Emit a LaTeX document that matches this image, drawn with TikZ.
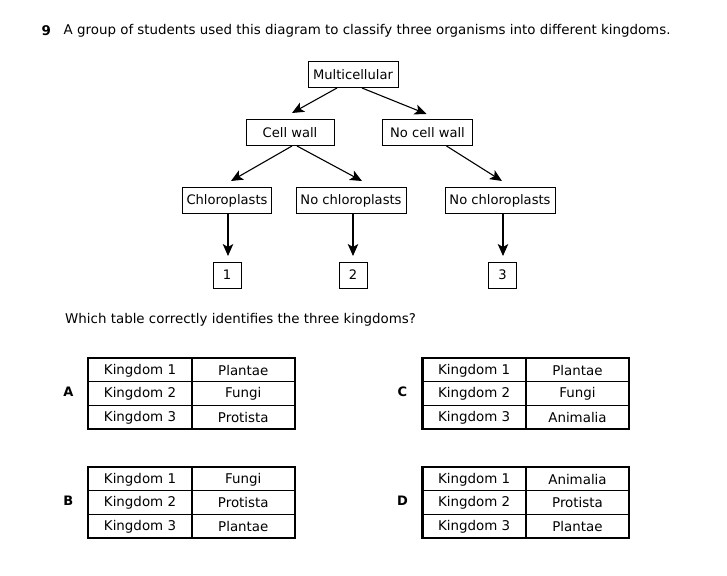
\documentclass[tikz,border=0pt]{standalone}
\usepackage{fontspec}
\setmainfont{DejaVu Sans}
\usetikzlibrary{arrows.meta}
\newcommand\kingtable[7]{% name, left x, top y, label, v1, v2, v3
  \begin{scope}[shift={(#2,#3)}]
    \draw[thin line] (0,23.6) -- (206.5,23.6) (0,47.2) -- (206.5,47.2);
    \draw[mid line] (103.4,0) -- (103.4,70.8);
    \draw[thick box] (0,0) rectangle (206.5,70.8);
    \node[celltext] (#1k1) at (51.7,12.3) {Kingdom 1};
    \node[celltext] (#1k2) at (51.7,35.9) {Kingdom 2};
    \node[celltext] (#1k3) at (51.7,59.5) {Kingdom 3};
    \node[celltext] (#1v1) at (155,12.3) {#5};
    \node[celltext] (#1v2) at (155,35.9) {#6};
    \node[celltext] (#1v3) at (155,59.5) {#7};
    \node[lettertext] (#1lab) at (-20,33.7) {#4};
  \end{scope}}
\begin{document}
\begin{tikzpicture}[x=1pt,y=-1pt,
  box/.style={draw,line width=1pt,inner sep=0pt,minimum height=26pt,font=\fontsize{13.1}{15}\selectfont},
  arr/.style={line width=1.1pt,-{Stealth[length=12pt,width=10.5pt,inset=3pt]}},
  celltext/.style={inner sep=0pt,font=\fontsize{13.4}{15}\selectfont},
  lettertext/.style={inner sep=0pt,font=\fontsize{13}{15}\selectfont\bfseries},
  thin line/.style={line width=0.9pt},
  mid line/.style={line width=1.6pt},
  thick box/.style={line width=2.2pt},
  txt/.style={inner sep=0pt,anchor=west,font=\fontsize{13.4}{15}\selectfont}]
\useasboundingbox (0,0) rectangle (727,575);
% title
\node[txt,font=\fontsize{13.4}{15}\selectfont\bfseries] (num) at (41.5,31) {9};
\node[txt] (title) at (63.5,31) {A group of students used this diagram to classify three organisms into different kingdoms.};
% tree
\node[box,minimum width=90pt] (mc) at (353,74.5) {Multicellular};
\node[box,minimum width=88pt] (cw) at (290,132.5) {Cell wall};
\node[box,minimum width=90pt] (ncw) at (427.5,132.5) {No cell wall};
\node[box,minimum width=89pt] (ch) at (227,200.5) {Chloroplasts};
\node[box,minimum width=110pt] (nch1) at (351,200.5) {No chloroplasts};
\node[box,minimum width=110pt] (nch2) at (500,200.5) {No chloroplasts};
\node[box,minimum width=28pt] (n1) at (227,275) {1};
\node[box,minimum width=28pt] (n2) at (353,275) {2};
\node[box,minimum width=28pt] (n3) at (502.5,275) {3};
\draw[arr] ([xshift=-16pt]mc.south) -- ([xshift=2pt,yshift=6pt]cw.north);
\draw[arr] ([xshift=9pt]mc.south) -- ([xshift=-1pt,yshift=5pt]ncw.north);
\draw[arr] ([xshift=2pt]cw.south) -- ([xshift=4pt,yshift=6pt]ch.north);
\draw[arr] ([xshift=7pt]cw.south) -- ([xshift=11pt,yshift=6pt]nch1.north);
\draw[arr] ([xshift=19pt]ncw.south) -- ([xshift=2pt,yshift=6pt]nch2.north);
\draw[arr] ([xshift=1pt]ch.south) -- ([xshift=1pt,yshift=5.5pt]n1.north);
\draw[arr] ([xshift=2pt]nch1.south) -- ([xshift=0pt,yshift=5.5pt]n2.north);
\draw[arr] ([xshift=3pt]nch2.south) -- ([xshift=0.5pt,yshift=5.5pt]n3.north);
% question
\node[txt] (q) at (65,320) {Which table correctly identifies the three kingdoms?};
% tables
\kingtable{ta}{88.3}{358.3}{A}{Plantae}{Fungi}{Protista}
\kingtable{tc}{422.5}{358.3}{C}{Plantae}{Fungi}{Animalia}
\kingtable{tb}{88.3}{467}{B}{Fungi}{Protista}{Plantae}
\kingtable{td}{422.5}{467}{D}{Animalia}{Protista}{Plantae}
\end{tikzpicture}
\end{document}
